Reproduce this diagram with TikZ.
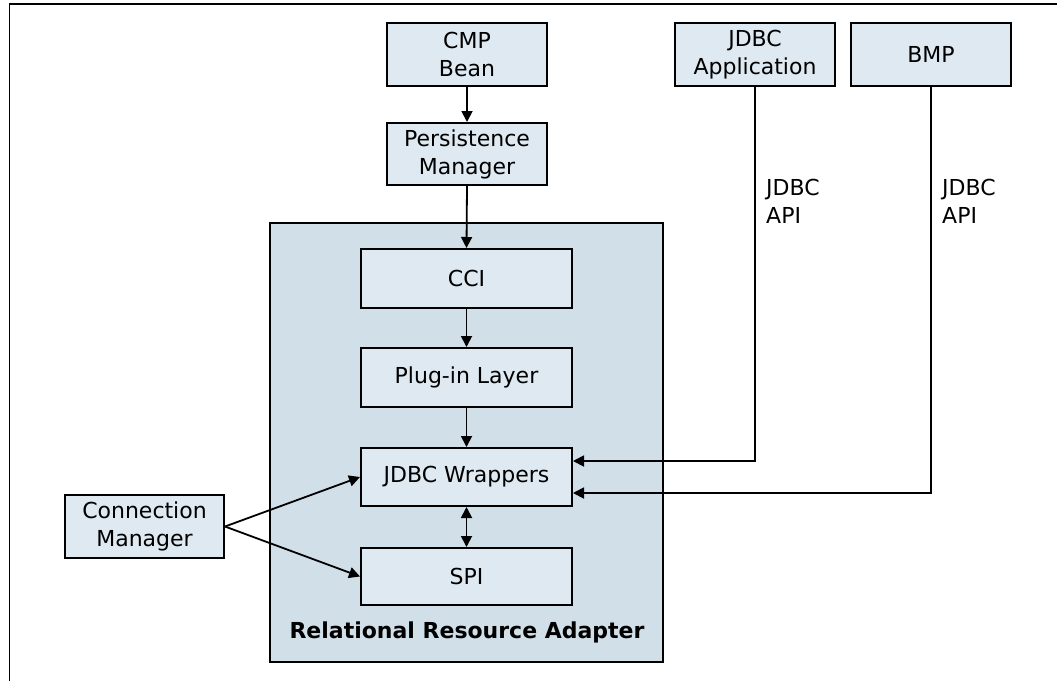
\documentclass[tikz,border=0pt]{standalone}
\usepackage{fontspec}
\setmainfont{DejaVu Sans}
\usetikzlibrary{arrows.meta}
\definecolor{boxfill}{RGB}{222,233,241}
\definecolor{outerfill}{RGB}{209,223,232}
\begin{document}
\begin{tikzpicture}[x=1pt,y=-1pt,
  txt/.style={font=\fontsize{22}{28}\selectfont},
  box/.style={draw=black,line width=2pt,fill=boxfill,inner sep=0pt,align=center,txt},
  arr/.style={line width=1.8pt,-{Triangle[length=11pt,width=11pt]}},
  dbl/.style={line width=1.8pt,{Triangle[length=11pt,width=11pt]}-{Triangle[length=11pt,width=11pt]}},
  ln/.style={line width=1.8pt}]
\useasboundingbox (0,0) rectangle (1057,681);
\fill[white] (0,0) rectangle (1057,681);
\draw[line width=1.8pt] (9.5,681) -- (9.5,4) -- (1057,4);

\node[draw=black,line width=2pt,fill=outerfill,minimum width=393.5pt,minimum height=439pt,inner sep=0pt] (rra) at (466.25,442.5) {};
\node[txt,font=\fontsize{22}{28}\selectfont\bfseries] (rralabel) at (467,632) {Relational Resource Adapter};

\node[box,minimum width=160pt,minimum height=63pt] (cmp) at (467,54.5) {CMP\\Bean};
\node[box,minimum width=160pt,minimum height=62pt] (pm) at (467,154) {Persistence\\Manager};
\node[box,minimum width=160pt,minimum height=63pt] (japp) at (755,54.5) {JDBC\\Application};
\node[box,minimum width=160pt,minimum height=63pt] (bmp) at (931,54.5) {BMP};

\node[box,minimum width=211pt,minimum height=59pt] (cci) at (466.5,278.5) {CCI};
\node[box,minimum width=211pt,minimum height=59pt] (plug) at (466.5,377.5) {Plug-in Layer};
\node[box,minimum width=211pt,minimum height=58pt] (jw) at (466.5,477) {JDBC Wrappers};
\node[box,minimum width=211pt,minimum height=57pt] (spi) at (466.5,576.5) {SPI};
\node[box,minimum width=159pt,minimum height=63pt] (cm) at (144.5,526.5) {Connection\\Manager};

\node[txt,anchor=north west,align=left,inner sep=0pt] (api1) at (766,179) {JDBC\\API};
\node[txt,anchor=north west,align=left,inner sep=0pt] (api2) at (942,179) {JDBC\\API};

\draw[arr] (cmp.south) -- (pm.north);
\draw[arr] (pm.south) -- (cci.north);
\draw[arr] (cci.south) -- (plug.north);
\draw[arr] (plug.south) -- (jw.north);
\draw[dbl] (jw.south) -- (spi.north);
\draw[arr] (cm.east) -- (jw.west);
\draw[arr] (cm.east) -- (spi.west);
\draw[arr] (japp.south) |- ([yshift=16pt]jw.east);
\draw[arr] (bmp.south) |- ([yshift=-16pt]jw.east);
\end{tikzpicture}
\end{document}
